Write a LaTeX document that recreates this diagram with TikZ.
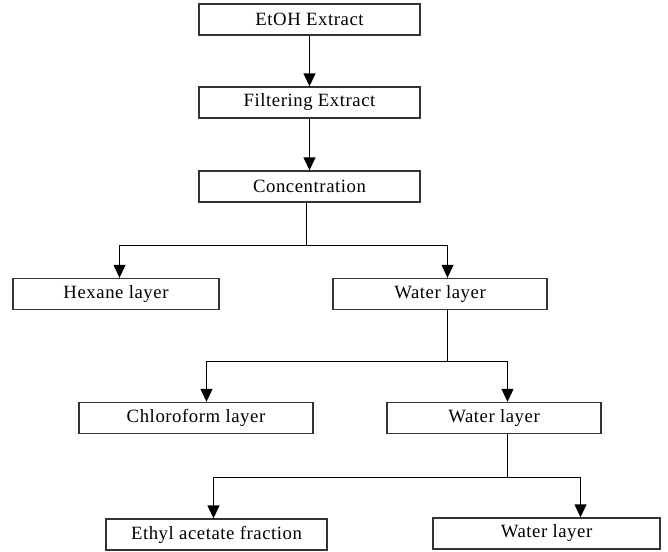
\documentclass[tikz,border=0pt]{standalone}
\usepackage{fontspec}
\setmainfont{Liberation Serif}
\usepackage{tikz}
\usetikzlibrary{positioning,arrows.meta}

\begin{document}
\begin{tikzpicture}[x=0.03cm, y=-0.03cm,
  stage/.style={draw=black!80, line width=1.1pt, rectangle, minimum height=0.93cm, inner sep=0pt, font=\fontsize{16}{19}\selectfont\addfontfeature{LetterSpace=3}},
  link/.style={line width=1.4pt},
  flow/.style={link, -{Triangle[length=11pt,width=10pt]}}]
\useasboundingbox (0,0) rectangle (668,551);
\node[stage, minimum width=6.63cm] (etoh) at (309.5,19.5) {EtOH Extract};
\node[stage, minimum width=6.63cm] (filter) at (309.5,102.5) {Filtering Extract};
\node[stage, minimum width=6.63cm] (conc) at (309.5,186.5) {Concentration};
\node[stage, minimum width=6.18cm] (hexane) at (116,294) {Hexane layer};
\node[stage, minimum width=6.42cm] (water1) at (440,294) {Water layer};
\node[stage, minimum width=7.02cm] (chloro) at (196,418) {Chloroform layer};
\node[stage, minimum width=6.42cm] (water2) at (494,418) {Water layer};
\node[stage, minimum width=6.63cm] (ethyl) at (216.5,534.5) {Ethyl acetate fraction};
\node[stage, minimum width=6.81cm] (water3) at (546.5,533.5) {Water layer};

% branching points
\coordinate (split1) at (306.5,245.5);
\coordinate (split2) at (447.5,361.5);
\coordinate (split3) at (507.5,477.5);

\draw[flow] (etoh) -- (filter);
\draw[flow] (filter) -- (conc);
\draw[link] (conc.south -| split1) -- (split1);
\draw[flow] (split1) -| (hexane.north -| 119.5,0);
\draw[flow] (split1) -| (water1.north -| split2);
\draw[link] (water1.south -| split2) -- (split2);
\draw[flow] (split2) -| (chloro.north -| 206.5,0);
\draw[flow] (split2) -| (water2.north -| split3);
\draw[link] (water2.south -| split3) -- (split3);
\draw[flow] (split3) -| (ethyl.north -| 213.5,0);
\draw[flow] (split3) -| (water3.north -| 580.5,0);
\end{tikzpicture}
\end{document}
